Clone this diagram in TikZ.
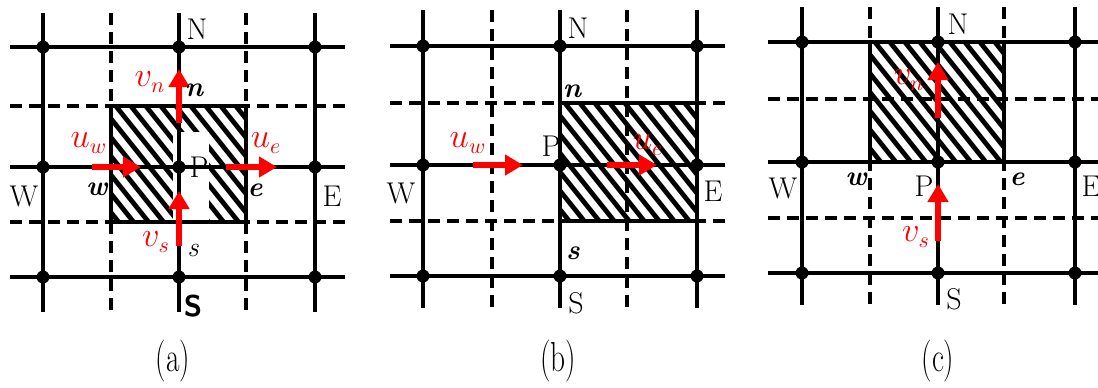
\documentclass[tikz,border=0pt]{standalone}
\usepackage{graphicx}
\usepackage{tikz}
\usetikzlibrary{arrows.meta,calc}

\begin{document}
\begin{tikzpicture}[
    x=0.5pt,y=-0.5pt,
    grid/.style  = {line width=1.7pt},
    half/.style  = {line width=1.6pt,dash pattern=on 6pt off 3.5pt},
    box/.style   = {line width=1.7pt},
    hatch/.style = {line width=2.4pt},
    knot/.style  = {circle,fill=black,inner sep=0pt,minimum size=6.5pt},
    vel/.style   = {red,line width=2.8pt,-{Triangle[length=9pt,width=10pt]}},
    vlab/.style  = {text=red,inner sep=0pt,font=\fontsize{16}{18}\selectfont},
    pnt/.style   = {inner sep=0pt,font=\fontsize{15}{17}\selectfont},
    face/.style  = {inner sep=0pt,font=\fontsize{14}{16}\selectfont\bfseries\itshape},
    capt/.style  = {inner sep=0pt,font=\fontsize{21}{23}\selectfont},
  ]
  \useasboundingbox (0,0) rectangle (1098,387);

  % ── Panel (a) : scalar cell ─────────────────────────────────────────────
  \begin{scope}
    \clip (111,106) rectangle (246,222);
    \foreach \x in {6,21,...,246}
      \draw[hatch] (\x,100) -- ++(104,130);
  \end{scope}
  \fill[white] (173,132) rectangle (209,222);
  \draw[box] (111,106) rectangle (246,222);
  \foreach \x in {43,179,315} \draw[grid] (\x,13) -- (\x,312);
  \foreach \y in {47,167,277} \draw[grid] (10,\y) -- (345,\y);
  \foreach \x in {111,246} \draw[half] (\x,13) -- (\x,312);
  \foreach \y in {106,222} \draw[half] (10,\y) -- (345,\y);
  \foreach \x/\c in {43/W,179/M,315/E}
    \foreach \y/\r in {47/N,167/M,277/S}
      \node[knot] (a\r\c) at (\x,\y) {};

  \coordinate (auw0) at (92,167);  \coordinate (auw1) at (141,167);
  \coordinate (aue0) at (226,167); \coordinate (aue1) at (277,167);
  \coordinate (avn0) at (179,123); \coordinate (avn1) at (179,69);
  \coordinate (avs0) at (179,246); \coordinate (avs1) at (179,191);
  \draw[vel] (auw0) -- (auw1);
  \draw[vel] (aue0) -- (aue1);
  \draw[vel] (avn0) -- (avn1);
  \draw[vel] (avs0) -- (avs1);

  \node[pnt]  (aN)  at (197,29)  {N};
  \node[pnt]  (aPl) at (199,167) {P};
  \node[pnt]  (aWl) at (24,196)  {W};
  \node[pnt]  (aEl) at (332,196) {E};
  \node[face] (an)  at (194,90)  {n};
  \node[face] (aw)  at (97,189)  {w};
  \node[face] (ae)  at (255,190) {e};
  \node[pnt,font=\fontsize{14}{16}\selectfont\itshape] (as) at (193,250) {s};
  \node[pnt,font=\fontsize{15}{17}\selectfont\sffamily\bfseries] (aS) at (193,306) {S};
  \node[vlab] (avn) at (150,82)  {$v_n$};
  \node[vlab] (auw) at (89,143)  {$u_w$};
  \node[vlab] (aue) at (266,143) {$u_e$};
  \node[vlab] (avs) at (156,242) {$v_s$};
  \node[capt] (capa) at (173,361) {\scalebox{0.7}[1]{(a)}};

  % ── Panel (b) : u-cell ──────────────────────────────────────────────────
  \begin{scope}
    \clip (560,103) rectangle (697,221);
    \foreach \x in {455,470,...,700}
      \draw[hatch] (\x,97) -- ++(104,130);
  \end{scope}
  \draw[box] (560,103) rectangle (697,221);
  \foreach \x in {423,560,697} \draw[grid] (\x,10) -- (\x,308);
  \foreach \y in {46,165,276} \draw[grid] (390,\y) -- (725,\y);
  \foreach \x in {492,627} \draw[half] (\x,10) -- (\x,308);
  \foreach \y in {103,221} \draw[half] (390,\y) -- (725,\y);
  \foreach \x/\c in {423/W,560/M,697/E}
    \foreach \y/\r in {46/N,165/M,276/S}
      \node[knot] (b\r\c) at (\x,\y) {};

  \coordinate (buw0) at (473,165); \coordinate (buw1) at (523,165);
  \coordinate (bue0) at (607,165); \coordinate (bue1) at (657,165);
  \draw[vel] (buw0) -- (buw1);
  \draw[vel] (bue0) -- (bue1);

  \node[pnt]  (bN)  at (578,28)  {N};
  \node[pnt]  (bPl) at (551,146) {P};
  \node[pnt]  (bWl) at (401,193) {W};
  \node[pnt]  (bEl) at (713,191) {E};
  \node[pnt]  (bS)  at (576,303) {S};
  \node[face] (bn)  at (572,91)  {n};
  \node[face] (bs)  at (573,253) {s};
  \node[vlab] (buw) at (468,143) {$u_w$};
  \node[vlab] (bue) at (648,145) {$u_e$};
  \node[capt] (capb) at (558,361) {\scalebox{0.7}[1]{(b)}};

  % ── Panel (c) : v-cell ──────────────────────────────────────────────────
  \begin{scope}
    \clip (870,42) rectangle (1004,162);
    \foreach \x in {765,780,...,1005}
      \draw[hatch] (\x,36) -- ++(104,130);
  \end{scope}
  \draw[box] (870,42) rectangle (1004,162);
  \foreach \x in {802,938,1075} \draw[grid] (\x,7) -- (\x,305);
  \foreach \y in {42,162,273} \draw[grid] (768,\y) -- (1098,\y);
  \foreach \x in {870,1004} \draw[half] (\x,7) -- (\x,305);
  \foreach \y in {99,218} \draw[half] (768,\y) -- (1098,\y);
  \foreach \x/\c in {802/W,938/M,1075/E}
    \foreach \y/\r in {42/N,162/M,273/S}
      \node[knot] (c\r\c) at (\x,\y) {};

  \coordinate (cvn0) at (938,118); \coordinate (cvn1) at (938,62);
  \coordinate (cvs0) at (938,241); \coordinate (cvs1) at (938,184);
  \draw[vel] (cvn0) -- (cvn1);
  \draw[vel] (cvs0) -- (cvs1);

  \node[pnt]  (cN)  at (958,24)  {N};
  \node[pnt]  (cPl) at (924,186) {P};
  \node[pnt]  (cWl) at (783,188) {W};
  \node[pnt]  (cEl) at (1091,186) {E};
  \node[pnt]  (cS)  at (954,299) {S};
  \node[face] (cw)  at (856,179) {w};
  \node[face] (ce)  at (1017,179) {e};
  \node[vlab] (cvn) at (909,80)  {$v_n$};
  \node[vlab] (cvs) at (916,237) {$v_s$};
  \node[capt] (capc) at (938,361) {\scalebox{0.7}[1]{(c)}};

\end{tikzpicture}
\end{document}
